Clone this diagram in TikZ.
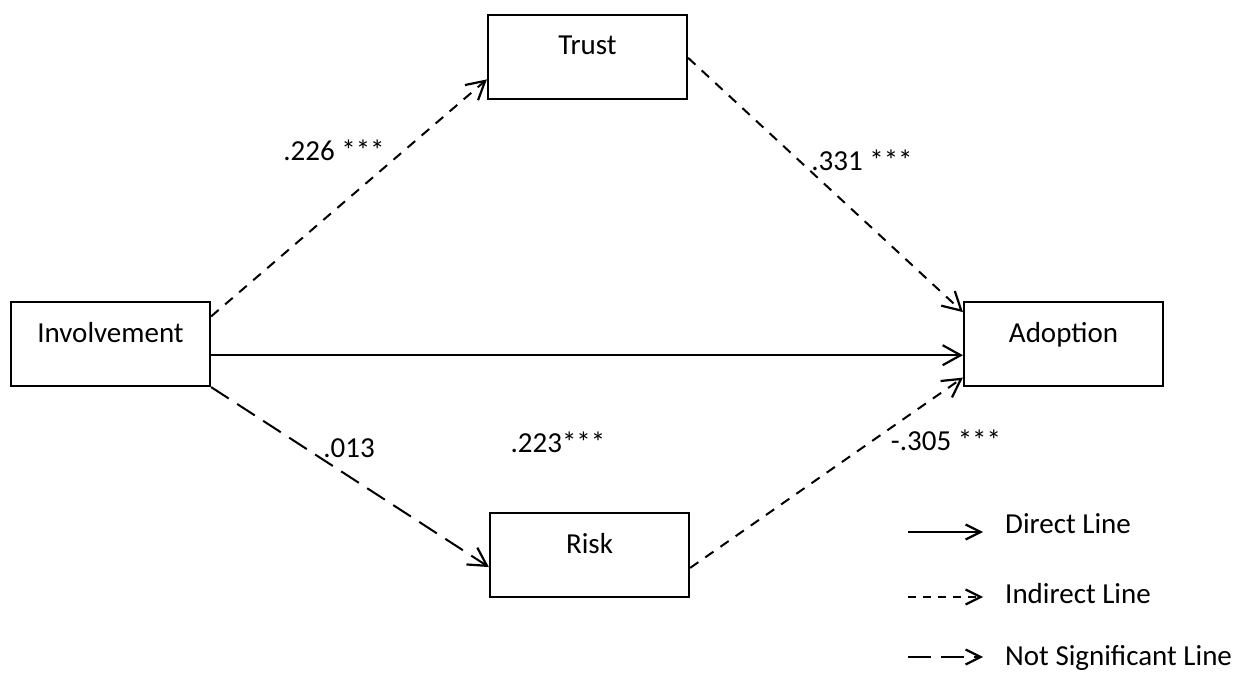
\documentclass[tikz,border=0pt]{standalone}
\usepackage{fontspec}
\setmainfont{Carlito}
\usetikzlibrary{arrows.meta,calc}

\tikzset{
  box/.style={draw, line width=2.2pt, rectangle, inner sep=0pt,
    minimum width=199pt, text height=40pt, text depth=44pt},
  link/.style={line width=2pt, -{Straight Barb[length=18pt,width=20pt,line width=2.2pt]}},
  keytip/.style={line width=2pt, -{Straight Barb[length=15pt,width=15pt,line width=2.2pt]}},
  shortdash/.style={dash pattern=on 10pt off 8.5pt},
  longdash/.style={dash pattern=on 21pt off 10pt},
  coef/.style={inner sep=0pt},
  keytext/.style={anchor=base west, inner sep=0pt}
}

\begin{document}
\begin{tikzpicture}[x=1pt, y=-1pt, font=\fontsize{29}{35}\selectfont]
  \useasboundingbox (0,0) rectangle (1252,679);

  % constructs
  \node[box] (trust) at (587.5,57) {Trust};
  \node[box] (inv)   at (110.5,344) {Involvement};
  \node[box] (adopt) at (1063.5,344) {Adoption};
  \node[box] (risk)  at (589.5,555) {Risk};

  % paths
  \draw[link, shortdash] ($(inv.north east)!0.18!(inv.south east)$) -- ($(trust.north west)!0.76!(trust.south west)$);
  \draw[link, shortdash] ($(trust.north east)!0.51!(trust.south east)$) -- ($(adopt.north west)!0.13!(adopt.south west)$);
  \draw[link] ($(inv.north east)!0.63!(inv.south east)$) -- ($(adopt.north west)!0.63!(adopt.south west)$);
  \draw[link, longdash] (inv.south east) -- ($(risk.north west)!0.64!(risk.south west)$);
  \draw[link, shortdash] ($(risk.north east)!0.65!(risk.south east)$) -- ($(adopt.north west)!0.89!(adopt.south west)$);

  % path coefficients
  \node[coef] (c1) at (334,150) {.226 ***};
  \node[coef] (c2) at (862,160) {.331 ***};
  \node[coef] (c3) at (349,448) {.013};
  \node[coef] (c4) at (558,442) {.223***};
  \node[coef] (c5) at (946,440) {-.305 ***};

  % key
  \coordinate (k1a) at (908,532);  \coordinate (k1b) at (983,532);
  \coordinate (k2a) at (908,597);  \coordinate (k2b) at (983,597);
  \coordinate (k3a) at (908,657);  \coordinate (k3b) at (983,657);
  \draw[keytip] (k1a) -- (k1b);
  \draw[keytip, dash pattern=on 8pt off 7pt] (k2a) -- (k2b);
  \draw[keytip, dash pattern=on 23pt off 10pt] (k3a) -- (k3b);
  \node[keytext] (t1) at (1005,533) {Direct Line};
  \node[keytext] (t2) at (1005,603) {Indirect Line};
  \node[keytext] (t3) at (1005,665) {Not Significant Line};
\end{tikzpicture}
\end{document}
